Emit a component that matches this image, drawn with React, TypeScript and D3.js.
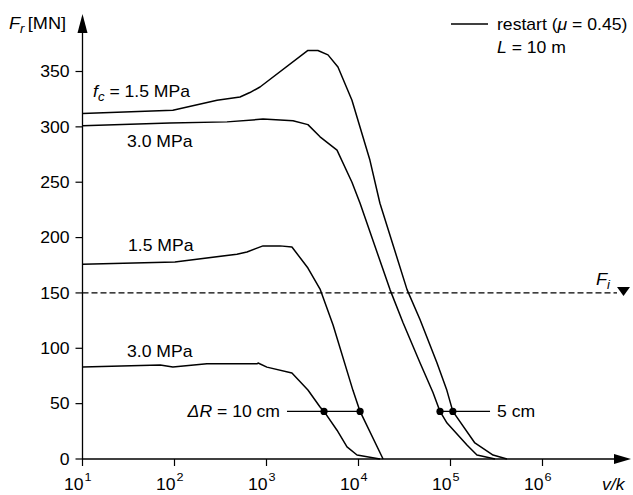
import React from "react";
import * as d3 from "d3";

// ---- data (v/k on log scale, F_r in MN) ----
const U15_V = [10, 96, 290, 515, 660, 850, 2820, 3620, 4660, 5980, 8490, 13300, 17100, 33700, 46600, 71200, 91300, 106000, 184000, 290000, 411000];
const U15_F = [312, 315, 324, 327, 331, 336, 369, 369, 365, 354, 324, 270, 231, 153, 126, 87, 62, 43, 14.5, 3.6, 0];

const U30_V = [10, 89, 372, 916, 1940, 2820, 3820, 5840, 8490, 10400, 22000, 30500, 46600, 64500, 76900, 91700, 151000, 194000, 305000];
const U30_F = [301, 303.5, 304.5, 307, 305.5, 302, 291, 279, 250, 231, 153, 123, 87, 60, 43, 32.5, 12.6, 3.6, 0];

const L15_V = [10, 101, 477, 613, 916, 1400, 1890, 2820, 3820, 5290, 8700, 10400, 18500];
const L15_F = [176, 178, 185, 187, 192.5, 192.5, 191.5, 172.5, 153.5, 121, 62, 43, 0];

const L30_V = [10, 70, 96, 225, 789, 810, 1010, 1890, 2820, 3820, 4220, 5840, 7500, 9640, 17100];
const L30_F = [83, 85, 83, 86, 86, 86.7, 83, 77.7, 62.3, 47, 43, 26, 11, 3.6, 0];

const DOT_V = [4220, 10400, 76900, 106000];
const DOT_F = 43;
const DR_LEFT = [1670, 10400]; // ΔR = 10 cm connector
const DR_RIGHT = [76900, 269000]; // 5 cm connector

const F_I = 150;
const X_TICKS = [1, 2, 3, 4, 5, 6];
const Y_TICKS = [0, 50, 100, 150, 200, 250, 300, 350];

const FONT = "'Liberation Sans', Arial, Helvetica, sans-serif";
const SX = 1.1;

function T(props: { x: number; y: number; anchor?: string; size?: number; italic?: boolean; children: React.ReactNode }) {
  const { x, y, anchor = "start", size = 16, italic = false, children } = props;
  return (
    <g transform={`translate(${x},${y}) scale(${SX},1)`}>
      <text x={0} y={0} textAnchor={anchor} fontSize={size} fontStyle={italic ? "italic" : "normal"}>
        {children}
      </text>
    </g>
  );
}

export default function App() {
  const W = 633, H = 495;
  const xs = d3.scaleLog().domain([10, 1e6]).range([82.5, 542.5]);
  const ys = d3.scaleLinear().domain([0, 350]).range([459, 71.5]);
  const line = d3
    .line<[number, number]>()
    .x((d) => xs(d[0]))
    .y((d) => ys(d[1]));
  const zip = (a: number[], b: number[]) => a.map((v, i) => [v, b[i]] as [number, number]);
  const curves = [zip(U15_V, U15_F), zip(U30_V, U30_F), zip(L15_V, L15_F), zip(L30_V, L30_F)];

  const x0 = xs(10);
  const y0 = ys(0);

  return (
    <svg
      width={W}
      height={H}
      style={{ position: "absolute", left: 0, top: 0, background: "#fff" }}
      fontFamily={FONT}
      fontSize={16}
    >
      <rect width={W} height={H} fill="#fff" />
      {/* axes */}
      <line x1={x0} y1={y0} x2={618} y2={y0} stroke="#000" strokeWidth={1.3} />
      <polygon points={`631,${y0} 614,${y0 - 5} 614,${y0 + 5}`} fill="#000" />
      <line x1={x0} y1={y0} x2={x0} y2={30} stroke="#000" strokeWidth={1.3} />
      <polygon points={`${x0},14 ${x0 - 5},33 ${x0 + 5},33`} fill="#000" />

      {/* y ticks */}
      {Y_TICKS.map((t) => (
        <g key={t}>
          <line x1={x0 - 7} x2={x0} y1={ys(t)} y2={ys(t)} stroke="#000" strokeWidth={1.2} />
          <T x={x0 - 13} y={ys(t) + 5.8} anchor="end">
            {t}
          </T>
        </g>
      ))}
      {/* x ticks */}
      {X_TICKS.map((e) => {
        const x = xs(Math.pow(10, e));
        return (
          <g key={e}>
            <line x1={x} x2={x} y1={y0} y2={y0 + 7} stroke="#000" strokeWidth={1.2} />
            <T x={x + 1} y={490} anchor="end">
              10
            </T>
            <T x={x + 2} y={481} size={11.5}>
              {e}
            </T>
          </g>
        );
      })}
      <T x={602} y={490} italic>
        v/k
      </T>

      {/* y label */}
      <T x={9} y={29} size={16.5}>
        <tspan fontStyle="italic">F</tspan>
        <tspan fontStyle="italic" fontSize={12} dy={4}>r</tspan>
        <tspan dy={-4} dx={3}>[MN]</tspan>
      </T>

      {/* F_i dashed line */}
      <line x1={x0} x2={617} y1={ys(F_I)} y2={ys(F_I)} stroke="#000" strokeWidth={1.2} strokeDasharray="6,3" />
      <polygon points={`617,287 630,287 623.5,296`} fill="#000" />
      <T x={596} y={285} size={16.5}>
        <tspan fontStyle="italic">F</tspan>
        <tspan fontStyle="italic" fontSize={12} dy={4}>i</tspan>
      </T>

      {/* curves */}
      {curves.map((c, i) => (
        <path key={i} d={line(c) || ""} fill="none" stroke="#000" strokeWidth={1.5} strokeLinejoin="round" />
      ))}

      {/* ΔR connectors */}
      <line x1={xs(DR_LEFT[0])} x2={xs(DR_LEFT[1])} y1={ys(DOT_F)} y2={ys(DOT_F)} stroke="#000" strokeWidth={1.3} />
      <line x1={xs(DR_RIGHT[0])} x2={xs(DR_RIGHT[1])} y1={ys(DOT_F)} y2={ys(DOT_F)} stroke="#000" strokeWidth={1.3} />
      {DOT_V.map((v, i) => (
        <circle key={i} cx={xs(v)} cy={ys(DOT_F)} r={3.6} fill="#000" />
      ))}
      <T x={280} y={417} anchor="end">
        <tspan fontStyle="italic">ΔR</tspan> = 10 cm
      </T>
      <T x={497} y={417}>5 cm</T>

      {/* curve labels */}
      <T x={93} y={97}>
        <tspan fontStyle="italic">f</tspan>
        <tspan fontStyle="italic" fontSize={12} dy={4}>c</tspan>
        <tspan dy={-4}> = 1.5 MPa</tspan>
      </T>
      <T x={127} y={147}>3.0 MPa</T>
      <T x={128} y={251}>1.5 MPa</T>
      <T x={127} y={357}>3.0 MPa</T>

      {/* legend */}
      <line x1={451} x2={488} y1={24} y2={24} stroke="#000" strokeWidth={1.3} />
      <T x={497} y={30}>
        restart (<tspan fontStyle="italic">μ</tspan> = 0.45)
      </T>
      <T x={497} y={53}>
        <tspan fontStyle="italic">L</tspan> = 10 m
      </T>
    </svg>
  );
}
